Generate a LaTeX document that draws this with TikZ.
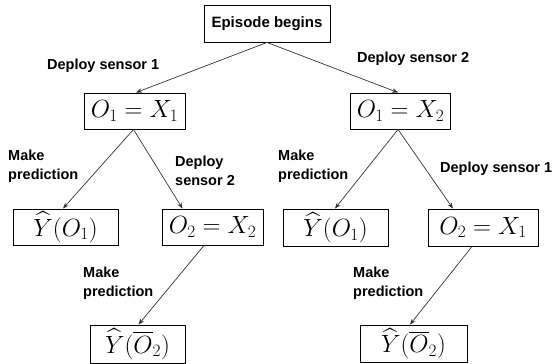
\documentclass[tikz,border=0pt]{standalone}
\usepackage{fontspec}
\usepackage{amsmath}
\setmainfont{Liberation Sans}
\usetikzlibrary{arrows.meta}
\tikzset{
  box/.style={draw=black, line width=0.9pt, inner sep=0pt, minimum height=36pt,
    font=\fontsize{26}{30}\selectfont},
  conn/.style={draw=black!80, line width=0.7pt, -{Stealth[length=6pt,width=4.5pt]}},
  lab/.style={font=\bfseries\fontsize{14.5}{19.5}\selectfont, inner sep=0pt, align=left, anchor=base west},
}
\begin{document}
\begin{tikzpicture}[x=1pt,y=-1pt]
\useasboundingbox (0,0) rectangle (558,364);
% boxes
\node[box, minimum width=126pt, minimum height=37pt, font=\bfseries\fontsize{15}{18}\selectfont] (ep) at (267,23.5) {Episode begins};
\node[box, minimum width=101pt] (a) at (134.5,111) {$O_1 = X_1$};
\node[box, minimum width=100pt] (b) at (400.5,111) {$O_1 = X_2$};
\node[box, minimum width=105pt] (c) at (65.5,227) {$\widehat{Y}(O_1)$};
\node[box, minimum width=101pt] (d) at (212.5,227) {$O_2 = X_2$};
\node[box, minimum width=105pt, minimum height=37pt] (e) at (335.5,227.5) {$\widehat{Y}(O_1)$};
\node[box, minimum width=110pt, minimum height=37pt] (f) at (483,227.5) {$O_2 = X_1$};
\node[box, minimum width=95pt, minimum height=38pt] (g) at (137.5,344) {$\widehat{Y}(\overline{O}_2)$};
\node[box, minimum width=107pt, minimum height=37pt] (h) at (413.5,343.5) {$\widehat{Y}(\overline{O}_2)$};
% connectors
\draw[conn] (ep.south) -- ([xshift=1.5pt]a.north);
\draw[conn] (ep.south) -- ([xshift=-2.5pt]b.north);
\draw[conn] ([xshift=-1pt]a.south) -- ([xshift=-2.5pt]c.north);
\draw[conn] ([xshift=-1pt]a.south) -- ([xshift=-30pt]d.north);
\draw[conn] ([xshift=-8.5pt]d.south) -- ([xshift=1pt]g.north);
\draw[conn] ([xshift=-2.5pt]b.south) -- ([xshift=-0.5pt]e.north);
\draw[conn] ([xshift=-2.5pt]b.south) -- ([xshift=-30pt]f.north);
\draw[conn] ([xshift=-11pt]f.south) -- ([xshift=-3.5pt]h.north);
% labels
\node[lab] (l1) at (47,70) {Deploy sensor 1};
\node[lab] (l2) at (357,63) {Deploy sensor 2};
\node[lab] (l3) at (8,179.5) {Make\\prediction};
\node[lab] (l4) at (175,185.5) {Deploy\\sensor 2};
\node[lab] (l5) at (83,296.5) {Make\\prediction};
\node[lab] (l6) at (278,179.5) {Make\\prediction};
\node[lab] (l7) at (440,172) {Deploy sensor 1};
\node[lab] (l8) at (353,296.5) {Make\\prediction};
\end{tikzpicture}
\end{document}
